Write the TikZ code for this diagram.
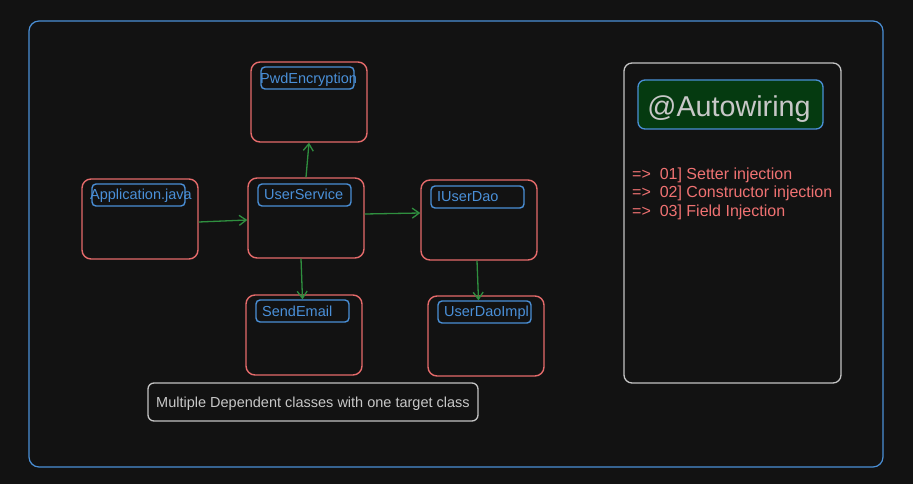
\documentclass[tikz,border=0pt]{standalone}
\usepackage{fontspec}
\setmainfont{Liberation Sans}
\usetikzlibrary{arrows.meta}
\definecolor{bg}{HTML}{121212}
\definecolor{redb}{HTML}{E56B6B}
\definecolor{blueb}{HTML}{4A8FD6}
\definecolor{bluet}{HTML}{4A90D9}
\definecolor{greena}{HTML}{2F8F3F}
\definecolor{grayb}{HTML}{C4C4C4}
\definecolor{grayt}{HTML}{C8C8C8}
\definecolor{darkg}{HTML}{053A10}
\definecolor{salmon}{HTML}{F07272}
\begin{document}
\begin{tikzpicture}[x=1pt,y=-1pt,
  cls/.style={draw=redb,line width=1.4pt,rounded corners=9pt,minimum width=116pt,minimum height=80pt,inner sep=0pt},
  lab/.style={draw=blueb,line width=1.4pt,rounded corners=4pt,minimum width=93pt,minimum height=22pt,inner sep=0pt},
  labt/.style={anchor=west,text=bluet,font=\fontsize{14.5pt}{16pt}\selectfont,inner sep=0pt},
  item/.style={anchor=west,text=salmon,font=\fontsize{16pt}{18pt}\selectfont,inner sep=0pt},
  dep/.style={draw=greena,line width=1.3pt,-{Straight Barb[length=7pt,width=10pt,line width=1.3pt]}},
  panel/.style={draw=grayb,line width=1.3pt,rounded corners=8pt,inner sep=0pt}
]
\fill[bg] (0,0) rectangle (913,484);
\useasboundingbox (0,0) rectangle (913,484);
\node[draw=blueb,line width=1.2pt,rounded corners=10pt,minimum width=854pt,minimum height=446pt,inner sep=0pt] (outer) at (456,244) {};

% class boxes
\node[cls] (pwd) at (309,102) {};
\node[cls] (app) at (140,219) {};
\node[cls] (us) at (306,218) {};
\node[cls] (iud) at (479,220) {};
\node[cls] (se) at (304,335) {};
\node[cls] (udi) at (486,336) {};

% labels
\node[lab] (pwdl) at (307.5,78) {};
\node[labt] (pwdt) at (260,79.5) {PwdEncryption};
\node[lab] (appl) at (138.5,195) {};
\node[labt] (appt) at (90,195.5) {Application.java};
\node[lab] (usl) at (304.5,195) {};
\node[labt] (ust) at (264,194.5) {UserService};
\node[lab] (iudl) at (477.5,197) {};
\node[labt] (iudt) at (437,196.5) {IUserDao};
\node[lab] (sel) at (302.5,311) {};
\node[labt] (set) at (262,311.5) {SendEmail};
\node[lab] (udil) at (484.5,312) {};
\node[labt] (udit) at (444,312.5) {UserDaoImpl};

% caption
\node[panel,rounded corners=6pt,minimum width=330pt,minimum height=38pt] (cap) at (313,402) {};
\node[anchor=west,text=grayt,font=\fontsize{14.5pt}{16pt}\selectfont,inner sep=0pt] (capt) at (156,403.5) {Multiple Dependent classes with one target class};

% right panel
\node[panel,minimum width=217pt,minimum height=320pt] (rp) at (732.5,223) {};
\node[draw=blueb,fill=darkg,line width=1.3pt,rounded corners=7pt,minimum width=185pt,minimum height=49pt,inner sep=0pt] (auto) at (730.5,104.5) {};
\node[text=grayt,font=\fontsize{28.7pt}{32pt}\selectfont,inner sep=0pt] (autot) at (729,109) {@Autowiring};
\node[item] (l1) at (632,175) {=>\ \ 01] Setter injection};
\node[item] (l2) at (632,193) {=>\ \ 02] Constructor injection};
\node[item] (l3) at (632,212) {=>\ \ 03] Field Injection};

% arrows
\draw[dep] ([yshift=-3pt]app.east) -- ([yshift=-2pt]us.west);
\draw[dep] (us.north) -- (pwd.south);
\draw[dep] ([yshift=4pt]us.east) -- ([yshift=7pt]iud.west);
\draw[dep] ([xshift=-5pt]us.south) -- (sel.north);
\draw[dep] ([xshift=-2pt]iud.south) -- ([xshift=-6pt]udil.north);
\end{tikzpicture}
\end{document}
